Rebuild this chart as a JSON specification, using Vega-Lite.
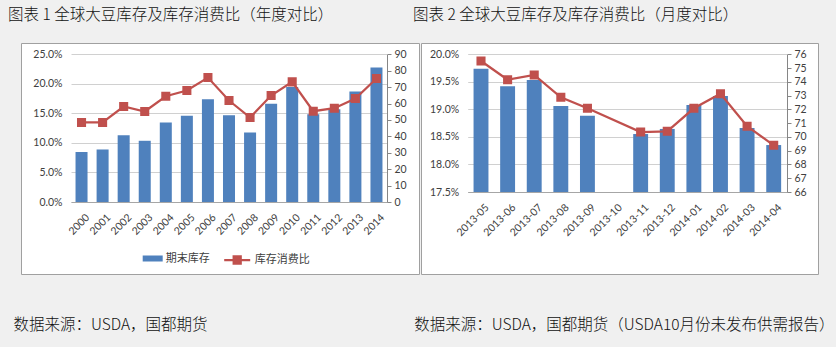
{
  "$schema": "https://vega.github.io/schema/vega-lite/v6.json",
  "background": "#f0f0f0",
  "padding": {"left": 7, "top": 7, "right": 3, "bottom": 15},
  "bounds": "flush",
  "spacing": 2,
  "config": {
    "font": "Noto Sans CJK SC",
    "axis": {"labelFont": "Lato", "labelFontSize": 10.5, "labelColor": "#404040"},
    "legend": {"labelFont": "Noto Sans CJK SC", "labelFontSize": 11, "labelColor": "#404040", "title": null, "padding": 0, "labelOffset": 3},
    "title": {"font": "Noto Sans CJK SC", "fontSize": 15.5, "fontWeight": 300, "color": "#111111", "anchor": "start", "frame": "group", "baseline": "top"}
  },
  "hconcat": [
    {
      "width": 398,
      "height": 231,
      "view": {"fill": "white", "stroke": "#a0a0a0"},
      "title": {"text": "图表 1 全球大豆库存及库存消费比（年度对比）", "dx": -13, "offset": 19.5},
      "data": {"values": [
        {"year": "2000", "stock": 30.4, "ratio": 0.1346},
        {"year": "2001", "stock": 32.0, "ratio": 0.1346},
        {"year": "2002", "stock": 40.6, "ratio": 0.1616},
        {"year": "2003", "stock": 37.3, "ratio": 0.1532},
        {"year": "2004", "stock": 48.5, "ratio": 0.179},
        {"year": "2005", "stock": 52.5, "ratio": 0.1886},
        {"year": "2006", "stock": 62.6, "ratio": 0.2106},
        {"year": "2007", "stock": 52.9, "ratio": 0.1718},
        {"year": "2008", "stock": 42.4, "ratio": 0.143},
        {"year": "2009", "stock": 59.8, "ratio": 0.1802},
        {"year": "2010", "stock": 70.1, "ratio": 0.2033},
        {"year": "2011", "stock": 53.4, "ratio": 0.1537},
        {"year": "2012", "stock": 56.5, "ratio": 0.1588},
        {"year": "2013", "stock": 67.3, "ratio": 0.1752},
        {"year": "2014", "stock": 81.9, "ratio": 0.209}
      ]},
      "encoding": {
        "x": {
          "field": "year", "type": "ordinal",
          "scale": {"range": [50, 366], "paddingInner": 0.43, "paddingOuter": 0.215},
          "axis": {"orient": "bottom", "offset": -72, "labelAngle": -45, "ticks": false, "domainColor": "#a6a6a6", "labelPadding": 10, "labelOffset": 3,
            "title": "数据来源：USDA，国都期货", "titleX": -8, "titleY": 115, "titleAlign": "left", "titleBaseline": "top", "titleAngle": 0,
            "titleFont": "Noto Sans CJK SC", "titleFontSize": 15.5, "titleFontWeight": 300, "titleColor": "#111111"}
        }
      },
      "layer": [
        {
          "mark": {"type": "bar"},
          "encoding": {
            "y": {"field": "stock", "type": "quantitative",
              "scale": {"domain": [0, 90], "range": [159, 11.3]},
              "axis": {"title": null, "orient": "right", "offset": -32, "values": [0, 10, 20, 30, 40, 50, 60, 70, 80, 90], "grid": false, "domainColor": "#868686", "tickColor": "#868686", "tickSize": 4, "labelPadding": 3}},
            "fill": {"datum": "期末库存", "type": "nominal", "scale": {"range": ["#4F81BD"]},
              "legend": {"orient": "none", "legendX": 121.7, "legendY": 205.5, "symbolType": "M-1,-0.3H1V0.3H-1Z", "symbolSize": 400, "symbolStrokeWidth": 0}}
          }
        },
        {
          "mark": {"type": "line", "strokeWidth": 2.25, "point": {"shape": "square", "size": 50, "filled": true, "color": "#C0504D"}},
          "encoding": {
            "y": {"field": "ratio", "type": "quantitative",
              "scale": {"domain": [0, 0.25], "range": [159, 11.3]},
              "axis": {"title": null, "orient": "left", "offset": -50, "values": [0, 0.05, 0.1, 0.15, 0.2, 0.25], "format": ".1%", "grid": true, "gridColor": "#d0d0d0", "domain": false, "ticks": false, "labelPadding": 9}},
            "stroke": {"datum": "库存消费比", "type": "nominal", "scale": {"range": ["#C0504D"]},
              "legend": {"orient": "none", "legendX": 201.7, "legendY": 202.5, "symbolType": "M-1,0H1M-0.27,-0.27H0.27V0.27H-0.27Z", "symbolSize": 676, "symbolStrokeWidth": 2.25, "symbolFillColor": "#C0504D"}}
          }
        }
      ],
      "resolve": {"scale": {"y": "independent"}}
    },
    {
      "width": 397,
      "height": 231,
      "view": {"fill": "white", "stroke": "#a0a0a0"},
      "title": {"text": "图表 2 全球大豆库存及库存消费比（月度对比）", "dx": -8, "offset": 19.5},
      "data": {"values": [
        {"month": "2013-05", "stock": 74.95, "ratio": 0.19878},
        {"month": "2013-06", "stock": 73.68, "ratio": 0.19539},
        {"month": "2013-07", "stock": 74.13, "ratio": 0.19624},
        {"month": "2013-08", "stock": 72.25, "ratio": 0.19219},
        {"month": "2013-09", "stock": 71.54, "ratio": 0.1902},
        {"month": "2013-11", "stock": 70.21, "ratio": 0.18589},
        {"month": "2013-12", "stock": 70.58, "ratio": 0.18602},
        {"month": "2014-01", "stock": 72.32, "ratio": 0.1902},
        {"month": "2014-02", "stock": 72.97, "ratio": 0.19285},
        {"month": "2014-03", "stock": 70.65, "ratio": 0.18693},
        {"month": "2014-04", "stock": 69.41, "ratio": 0.18348}
      ]},
      "encoding": {
        "x": {
          "field": "month", "type": "ordinal",
          "scale": {"domain": ["2013-05", "2013-06", "2013-07", "2013-08", "2013-09", "2013-10", "2013-11", "2013-12", "2014-01", "2014-02", "2014-03", "2014-04"], "range": [46.7, 366], "paddingInner": 0.44, "paddingOuter": 0.22},
          "axis": {"orient": "bottom", "offset": -82, "labelAngle": -45, "ticks": false, "domainColor": "#a6a6a6", "labelPadding": 10, "labelOffset": 3,
            "title": "数据来源：USDA，国都期货（USDA10月份未发布供需报告）", "titleX": 413, "titleY": 125, "titleAlign": "right", "titleBaseline": "top", "titleAngle": 0,
            "titleFont": "Noto Sans CJK SC", "titleFontSize": 15.5, "titleFontWeight": 300, "titleColor": "#111111"}
        }
      },
      "layer": [
        {
          "mark": {"type": "bar"},
          "encoding": {
            "y": {"field": "stock", "type": "quantitative",
              "scale": {"domain": [66, 76], "zero": false, "range": [149, 11.3]},
              "axis": {"title": null, "orient": "right", "offset": -31, "values": [66, 67, 68, 69, 70, 71, 72, 73, 74, 75, 76], "grid": false, "domainColor": "#868686", "tickColor": "#868686", "tickSize": 4, "labelPadding": 3}},
            "y2": {"datum": 66},
            "fill": {"datum": "期末库存", "type": "nominal", "scale": {"range": ["#4F81BD"]},
              "legend": {"orient": "none", "legendX": 126, "legendY": 205.5, "symbolType": "M-1,-0.3H1V0.3H-1Z", "symbolSize": 400, "symbolStrokeWidth": 0}}
          }
        },
        {
          "mark": {"type": "line", "strokeWidth": 2.25, "point": {"shape": "square", "size": 50, "filled": true, "color": "#C0504D"}},
          "encoding": {
            "y": {"field": "ratio", "type": "quantitative",
              "scale": {"domain": [0.175, 0.2], "zero": false, "range": [149, 11.3]},
              "axis": {"title": null, "orient": "left", "offset": -46.7, "values": [0.175, 0.18, 0.185, 0.19, 0.195, 0.2], "format": ".1%", "grid": true, "gridColor": "#d0d0d0", "domain": false, "ticks": false, "labelPadding": 9}},
            "stroke": {"datum": "库存消费比", "type": "nominal", "scale": {"range": ["#C0504D"]},
              "legend": {"orient": "none", "legendX": 200, "legendY": 202.5, "symbolType": "M-1,0H1M-0.27,-0.27H0.27V0.27H-0.27Z", "symbolSize": 676, "symbolStrokeWidth": 2.25, "symbolFillColor": "#C0504D"}}
          }
        }
      ],
      "resolve": {"scale": {"y": "independent"}}
    }
  ]
}
